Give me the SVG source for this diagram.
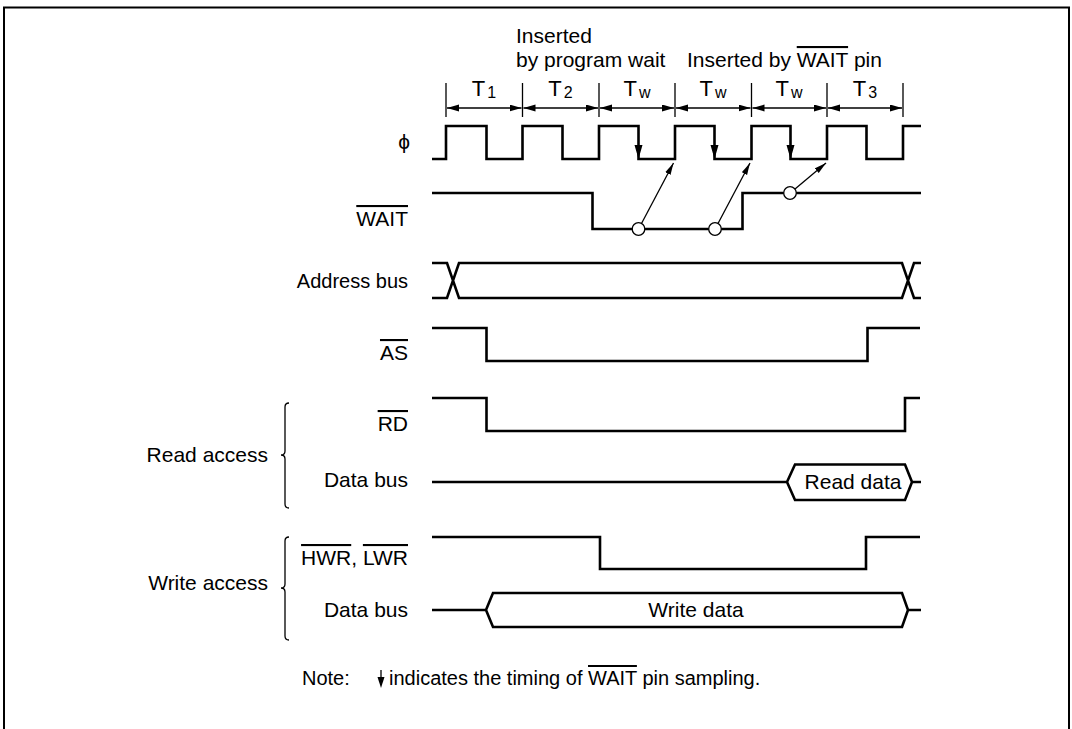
<svg xmlns="http://www.w3.org/2000/svg" width="1072" height="729" viewBox="0 0 1072 729">
<style>
text{font-family:"Liberation Sans",Arial,sans-serif;font-size:21px;fill:#000}
.lbl{text-anchor:end}
.mid{text-anchor:middle}
.sig{fill:none;stroke:#000;stroke-width:2.6;stroke-linejoin:miter}
.thin{fill:none;stroke:#000;stroke-width:1.3}
.ol{text-decoration:overline}
.sub{font-size:16px}
</style>
<defs>
<marker id="ah" markerUnits="userSpaceOnUse" markerWidth="13" markerHeight="8" refX="12" refY="3.5" orient="auto-start-reverse">
<path d="M0,0 L12,3.5 L0,7 z" fill="#000"/>
</marker>
<marker id="ah2" markerUnits="userSpaceOnUse" markerWidth="13" markerHeight="8" refX="12" refY="3.5" orient="auto">
<path d="M0,0.5 L12,3.5 L0,6.5 z" fill="#000"/>
</marker>
</defs>
<rect x="4" y="7.5" width="1065" height="800" fill="#fff" stroke="#000" stroke-width="2"/>

<g id="header">
<text x="516" y="43">Inserted</text>
<text x="516" y="67">by program wait</text>
<text x="687" y="67">Inserted by <tspan class="ol">WAIT</tspan> pin</text>
</g>

<g id="timing-states">
<g class="thin">
<path d="M446,83V117M522.5,83V117M599,83V117M675,83V117M751.5,83V117M827,83V117M903,83V117"/>
<line x1="447" y1="108" x2="521.5" y2="108" marker-start="url(#ah)" marker-end="url(#ah)"/>
<line x1="523.5" y1="108" x2="598" y2="108" marker-start="url(#ah)" marker-end="url(#ah)"/>
<line x1="600" y1="108" x2="674" y2="108" marker-start="url(#ah)" marker-end="url(#ah)"/>
<line x1="676" y1="108" x2="750.5" y2="108" marker-start="url(#ah)" marker-end="url(#ah)"/>
<line x1="752.5" y1="108" x2="826" y2="108" marker-start="url(#ah)" marker-end="url(#ah)"/>
<line x1="828" y1="108" x2="902" y2="108" marker-start="url(#ah)" marker-end="url(#ah)"/>
</g>
<text class="mid" x="484" y="96" style="font-size:22px">T<tspan class="sub" dx="2" dy="2">1</tspan></text>
<text class="mid" x="560.5" y="96" style="font-size:22px">T<tspan class="sub" dx="2" dy="2">2</tspan></text>
<text class="mid" x="637" y="96" style="font-size:22px">T<tspan class="sub" dx="2" dy="2">w</tspan></text>
<text class="mid" x="713" y="96" style="font-size:22px">T<tspan class="sub" dx="2" dy="2">w</tspan></text>
<text class="mid" x="789" y="96" style="font-size:22px">T<tspan class="sub" dx="2" dy="2">w</tspan></text>
<text class="mid" x="865" y="96" style="font-size:22px">T<tspan class="sub" dx="2" dy="2">3</tspan></text>
</g>

<g id="phi">
<text class="lbl" x="410" y="149">ϕ</text>
<path class="sig" d="M432,159H446V126H486.5V159H522.5V126H562.5V159H599V126H638.5V159H675V126H714.5V159H751.5V126H790.5V159H827V126H866.5V159H903V126H921"/>
<path d="M634.5,145H642.5L638.5,159z M710.5,145H718.5L714.5,159z M786.5,145H794.5L790.5,159z" fill="#000"/>
</g>

<g id="wait">
<text class="lbl" x="408" y="226"><tspan class="ol">WAIT</tspan></text>
<path class="sig" d="M432,193H592.5V229H742.5V193H921"/>
</g>

<g id="connectors" class="thin">
<line x1="641.5" y1="223.5" x2="673.5" y2="163" marker-end="url(#ah2)"/>
<line x1="718" y1="223.5" x2="750" y2="163" marker-end="url(#ah2)"/>
<line x1="795" y1="189" x2="826" y2="163" marker-end="url(#ah2)"/>
<circle cx="638.5" cy="229" r="6.3" fill="#fff"/>
<circle cx="715" cy="229" r="6.3" fill="#fff"/>
<circle cx="790" cy="193" r="6.3" fill="#fff"/>
</g>

<g id="address-bus">
<text class="lbl" x="408" y="288" style="font-size:20px">Address bus</text>
<path class="sig" d="M432,263H447L459,298H902L914,263H921M432,298H447L459,263H902L914,298H921"/>
</g>

<g id="as">
<text class="lbl" x="408" y="360"><tspan class="ol">AS</tspan></text>
<path class="sig" d="M432,328H486.5V361H867.5V328H920"/>
</g>

<g id="read-access">
<text class="lbl" x="268" y="462">Read access</text>
<path class="thin" d="M289,403Q285,403 285,407V451Q285,455 281,455Q285,455 285,459V504Q285,508 289,508"/>
</g>

<g id="rd">
<text class="lbl" x="408" y="431"><tspan class="ol">RD</tspan></text>
<path class="sig" d="M432,398H486.5V431H905V398H920"/>
</g>

<g id="read-data-bus">
<text class="lbl" x="408" y="487">Data bus</text>
<path class="sig" d="M432,482H787L795,464.5H905L912,482H921M787,482L795,500H905L912,482"/>
<text class="mid" x="853" y="489">Read data</text>
</g>

<g id="write-access">
<text class="lbl" x="268" y="590">Write access</text>
<path class="thin" d="M289,537Q285,537 285,541V584Q285,588 281,588Q285,588 285,592V636Q285,640 289,640"/>
</g>

<g id="hwr-lwr">
<text class="lbl" x="408" y="565"><tspan class="ol">HWR</tspan>, <tspan class="ol">LWR</tspan></text>
<path class="sig" d="M432,537H600V569H866V537H920"/>
</g>

<g id="write-data-bus">
<text class="lbl" x="408" y="617">Data bus</text>
<path class="sig" d="M432,610H486L493,593H902L908,610H921M486,610L493,627H902L908,610"/>
<text class="mid" x="696" y="617">Write data</text>
</g>

<g id="note">
<text x="302" y="685" style="font-size:20px">Note:</text>
<line x1="381" y1="670" x2="381" y2="680" stroke="#000" stroke-width="1.3"/>
<path d="M377.5,677H384.5L381,688z" fill="#000"/>
<text x="389" y="685" style="font-size:20px">indicates the timing of <tspan class="ol">WAIT</tspan> pin sampling.</text>
</g>
</svg>
